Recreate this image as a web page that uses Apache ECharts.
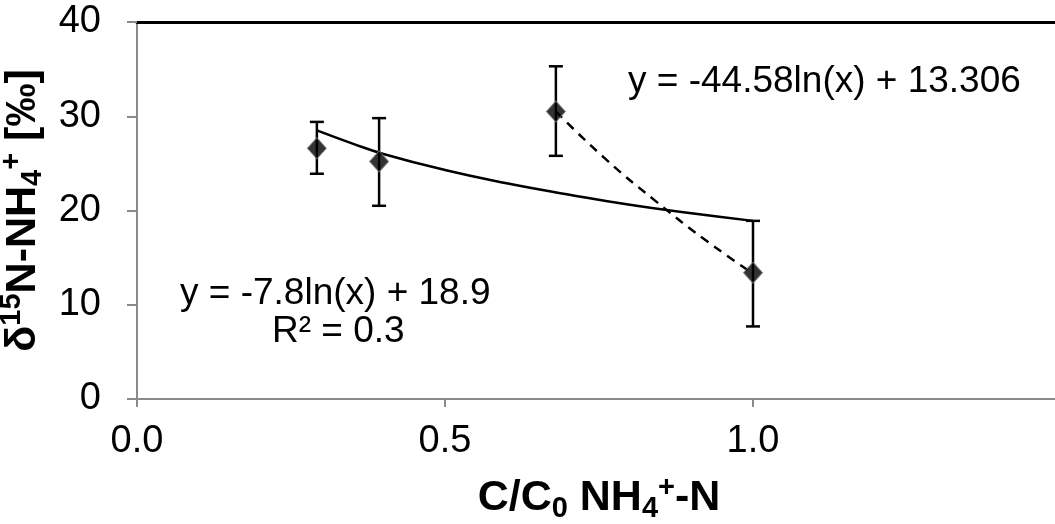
<!DOCTYPE html>
<html>
<head>
<meta charset="utf-8">
<script src="https://cdn.jsdelivr.net/npm/echarts@6/dist/echarts.min.js"></script>
<style>
html,body{margin:0;padding:0;background:#fff;}
#chart{width:1055px;height:524px;}
</style>
</head>
<body>
<div id="chart"></div>
<script>
// Measured points: [C/C0, delta15N]
var points = [[0.292, 26.6], [0.393, 25.2], [0.680, 30.5], [1.0, 13.4]];
// Error bars: [x, low, high]
var errorBars = [[0.292, 23.9, 29.4], [0.393, 20.5, 29.8], [0.680, 25.8, 35.3], [1.0, 7.7, 18.9]];
// Solid log trendline
var trendAll = [[0.292, 28.5], [0.35, 27.1], [0.4, 26.0], [0.5, 24.3], [0.6, 22.9], [0.7, 21.7], [0.8, 20.6], [0.9, 19.7], [1.0, 18.9]];
// Dashed log trendline (last two points)
var trendLast = [[0.680, 30.5], [0.76, 25.5], [0.84, 21.1], [0.92, 17.0], [1.0, 13.3]];
var xTicks = [0, 0.5, 1.0];
var yTicks = [0, 10, 20, 30, 40];
var eq1 = 'y = -44.58ln(x) + 13.306';
var eq2 = 'y = -7.8ln(x) + 18.9';
var eq3 = 'R² = 0.3';

var FONT = '"Liberation Sans", Arial, sans-serif';
var richTitle = {
  b: {fontSize: 43, fontWeight: 'bold', fontFamily: FONT, color: '#000', lineHeight: 50},
  sub: {fontSize: 29, fontWeight: 'bold', fontFamily: FONT, color: '#000', verticalAlign: 'bottom', lineHeight: 29},
  sup: {fontSize: 29, fontWeight: 'bold', fontFamily: FONT, color: '#000', verticalAlign: 'top', lineHeight: 29}
};
var chart = echarts.init(document.getElementById('chart'));
chart.setOption({
  backgroundColor: '#ffffff',
  animation: false,
  textStyle: {fontFamily: FONT, color: '#000'},
  grid: {left: 137, right: -6, top: 22, bottom: 125, containLabel: false, outerBoundsMode: 'none'},
  xAxis: [{
    type: 'value', min: 0, max: 1.5, interval: 0.5,
    axisLine: {show: true, onZero: false, lineStyle: {color: '#8a8a8a', width: 2}},
    axisTick: {show: true, inside: false, length: 8, customValues: xTicks, lineStyle: {color: '#8a8a8a', width: 2}},
    axisLabel: {customValues: xTicks, fontSize: 38, color: '#000', margin: 24, fontFamily: FONT,
      formatter: function (v) { return v.toFixed(1); }},
    splitLine: {show: false},
    name: '{b|C/C}{sub|0}{b| NH}{sub|4}{sup|+}{b|-N}',
    nameLocation: 'middle', nameGap: 74,
    nameTextStyle: {rich: richTitle}
  }, {
    type: 'value', min: 0, max: 1.5, position: 'top',
    axisLine: {show: true, onZero: false, lineStyle: {color: '#000', width: 3}},
    axisTick: {show: false}, axisLabel: {show: false}, splitLine: {show: false}
  }],
  yAxis: {
    type: 'value', min: 0, max: 40, interval: 10,
    axisLine: {show: true, onZero: false, lineStyle: {color: '#8a8a8a', width: 2}},
    axisTick: {show: true, inside: false, length: 10, lineStyle: {color: '#8a8a8a', width: 2}},
    axisLabel: {fontSize: 38, color: '#000', margin: 36, fontFamily: FONT},
    splitLine: {show: false},
    name: '{b|δ}{sup|15}{b|N-NH}{sub|4}{sup|+}{b| [‰]}',
    nameLocation: 'middle', nameRotate: 90, nameGap: 72,
    nameTextStyle: {rich: richTitle}
  },
  series: [
    {
      type: 'line', data: trendAll, smooth: true, showSymbol: false, symbol: 'none',
      lineStyle: {color: '#000', width: 2.5}, z: 2
    },
    {
      type: 'line', data: trendLast, smooth: true, showSymbol: false, symbol: 'none',
      lineStyle: {color: '#000', width: 2.5, type: [9, 7]}, z: 2
    },
    {
      type: 'custom', data: errorBars, z: 3,
      renderItem: function (params, api) {
        var x = api.value(0);
        var lo = api.coord([x, api.value(1)]);
        var hi = api.coord([x, api.value(2)]);
        var cap = 7;
        var st = {stroke: '#000', lineWidth: 2.5, fill: null};
        return {
          type: 'group',
          children: [
            {type: 'line', shape: {x1: lo[0], y1: lo[1], x2: hi[0], y2: hi[1]}, style: st},
            {type: 'line', shape: {x1: lo[0] - cap, y1: lo[1], x2: lo[0] + cap, y2: lo[1]}, style: st},
            {type: 'line', shape: {x1: hi[0] - cap, y1: hi[1], x2: hi[0] + cap, y2: hi[1]}, style: st}
          ]
        };
      }
    },
    {
      type: 'scatter', data: points, symbol: 'diamond', symbolSize: [19, 21], z: 4,
      itemStyle: {color: '#000', borderColor: '#777', borderWidth: 1}
    }
  ],
  graphic: [
    {type: 'text', left: 628, top: 63, style: {text: eq1, fontSize: 37, fontFamily: FONT, fill: '#000'}},
    {type: 'text', left: 180, top: 275, style: {text: eq2, fontSize: 37, fontFamily: FONT, fill: '#000'}},
    {type: 'text', left: 272, top: 313, style: {text: eq3, fontSize: 37, fontFamily: FONT, fill: '#000'}}
  ]
});
</script>
</body>
</html>
